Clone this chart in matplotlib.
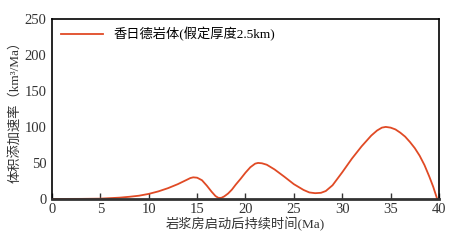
import matplotlib
matplotlib.use("Agg")
import matplotlib.pyplot as plt

# time since magma chamber start (Ma) and volume addition rate (km3/Ma)
t = [0, 3, 5, 7, 8, 9, 10, 11, 12, 13, 14, 14.3, 14.6, 15, 15.5, 16, 16.5,
     16.9, 17.2, 17.5, 17.8, 18.2, 18.6, 19, 19.5, 20, 20.5, 21, 21.3, 21.7,
     22.2, 23, 24, 25, 26, 26.6, 27.2, 27.8, 28.3, 29, 30, 31, 32, 33, 33.6,
     34.1, 34.5, 35, 35.5, 36, 36.5, 37, 37.5, 38, 38.5, 39, 39.4, 39.8]
rate = [0, 0.1, 0.4, 1.8, 3, 4.5, 7, 10.5, 15, 20.5, 27, 29, 30, 29.5, 26,
        18.5, 10, 4, 1.5, 1.5, 3.5, 7.5, 13, 20, 28, 36.5, 44, 49, 50, 49.5,
        47.5, 41, 31, 20.5, 12.5, 9, 8, 8.5, 11, 19, 37, 56, 73, 88, 95,
        99, 100, 99, 96.5, 92, 86.5, 79, 70.5, 60, 47, 31, 17, 0.5]

label = "香日德岩体(假定厚度2.5km)"
xticks = [0, 5, 10, 15, 20, 25, 30, 35, 40]
yticks = [0, 50, 100, 150, 200, 250]

fonts = ["Liberation Serif", "Noto Sans CJK SC"]
plt.rcParams["font.family"] = fonts

fig = plt.figure(figsize=(4.58, 2.45), dpi=100)
ax = fig.add_axes([0.1135, 0.188, 0.845, 0.735])

ax.plot(t, rate, color="#e04a25", lw=1.3, label=label)

ax.set_xlim(0, 40)
ax.set_ylim(0, 250)
ax.set_xticks(xticks)
ax.set_yticks(yticks)
ax.tick_params(axis="x", direction="in", length=4, width=1, labelsize=10.5,
               pad=3, colors="#333333")
ax.tick_params(axis="y", length=0, labelsize=10.5, pad=4, colors="#333333")
for s in ["top", "left", "right"]:
    ax.spines[s].set_linewidth(1.2)
ax.spines["bottom"].set_linewidth(2)
ax.spines["bottom"].set_color("#333333")

ax.set_xlabel("岩浆房启动后持续时间(Ma)", fontsize=9.5, labelpad=1, color="#333333")
ax.set_ylabel("体积添加速率（km³/Ma）", fontsize=9.5, labelpad=2, color="#333333")

leg = ax.legend(loc="upper left", frameon=False, fontsize=9.5, handlelength=3.2,
                borderaxespad=0.25, handletextpad=0.8)

fig.savefig("out.png", dpi=100)
